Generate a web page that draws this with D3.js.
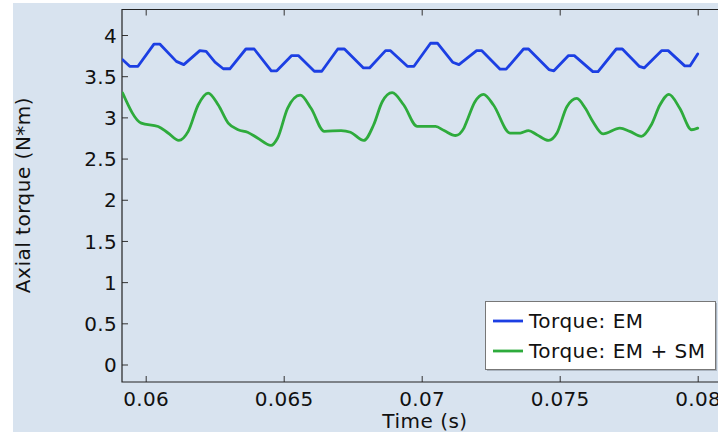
<!DOCTYPE html>
<html>
<head>
<meta charset="utf-8">
<script src="https://cdn.jsdelivr.net/npm/d3@7"></script>
<style>
  html, body { margin: 0; padding: 0; background: #fff; }
  svg { display: block; font-family: "DejaVu Sans", sans-serif; }
</style>
</head>
<body>
<svg id="chart" width="718" height="432"></svg>
<script>
// Data (time in s, torque in N*m)
var seriesNames = ["Torque: EM", "Torque: EM + SM"];
var xTicks = [0.06, 0.065, 0.07, 0.075, 0.08];
var xTickLabels = ["0.06", "0.065", "0.07", "0.075", "0.08"];
var yTicks = [0, 0.5, 1, 1.5, 2, 2.5, 3, 3.5, 4];
var yTickLabels = ["0", "0.5", "1", "1.5", "2", "2.5", "3", "3.5", "4"];

var torqueEM = [
  [0.059165, 3.70], [0.05942, 3.62], [0.05972, 3.62], [0.06030, 3.89], [0.06051, 3.89],
  [0.06111, 3.68], [0.06138, 3.64], [0.06196, 3.81], [0.06219, 3.80], [0.06251, 3.67],
  [0.06281, 3.59], [0.06305, 3.59], [0.06363, 3.83], [0.06393, 3.83], [0.06455, 3.565],
  [0.06475, 3.565], [0.06529, 3.75], [0.06553, 3.75], [0.06611, 3.56], [0.06638, 3.56],
  [0.06696, 3.83], [0.06720, 3.83], [0.06789, 3.60], [0.06811, 3.60], [0.06869, 3.81],
  [0.06887, 3.81], [0.06948, 3.62], [0.06972, 3.62], [0.07032, 3.90], [0.07057, 3.90],
  [0.07112, 3.67], [0.07135, 3.64], [0.07199, 3.81], [0.07218, 3.81], [0.07284, 3.585],
  [0.07306, 3.585], [0.07369, 3.83], [0.07387, 3.83], [0.07461, 3.58], [0.07479, 3.565],
  [0.07532, 3.75], [0.07553, 3.75], [0.07620, 3.556], [0.07639, 3.556], [0.07705, 3.83],
  [0.07727, 3.83], [0.07788, 3.62], [0.07806, 3.60], [0.07869, 3.81], [0.07893, 3.81],
  [0.07953, 3.625], [0.07972, 3.625], [0.08000, 3.77]
];
var torqueEMSM = [
  [0.059165, 3.295], [0.05984, 2.93], [0.06045, 2.89], [0.06081, 2.81], [0.06120, 2.72],
  [0.06154, 2.83], [0.06190, 3.15], [0.06226, 3.295], [0.06263, 3.15], [0.06299, 2.93],
  [0.06335, 2.85], [0.06369, 2.82], [0.06405, 2.75], [0.06454, 2.66], [0.06478, 2.75],
  [0.06514, 3.11], [0.06560, 3.27], [0.06599, 3.11], [0.06647, 2.83], [0.06708, 2.84],
  [0.06742, 2.82], [0.06790, 2.72], [0.06826, 2.91], [0.06857, 3.19], [0.06893, 3.30],
  [0.06935, 3.15], [0.06984, 2.89], [0.07050, 2.89], [0.07081, 2.84], [0.07123, 2.78],
  [0.07153, 2.87], [0.07163, 2.95], [0.07193, 3.19], [0.07224, 3.28], [0.07260, 3.15],
  [0.07320, 2.81], [0.07357, 2.81], [0.07387, 2.84], [0.07417, 2.79], [0.07460, 2.72],
  [0.07490, 2.81], [0.07526, 3.13], [0.07562, 3.23], [0.07593, 3.11], [0.07620, 2.95],
  [0.07657, 2.80], [0.07718, 2.87], [0.07754, 2.83], [0.07796, 2.77], [0.07832, 2.91],
  [0.07863, 3.15], [0.07896, 3.28], [0.07935, 3.11], [0.07978, 2.85], [0.08000, 2.87]
];

var colors = ["#1c3fe3", "#2eab3c"];

function init() {
  var svg = d3.select("#chart");
  var bg = "#d8e3ef";
  var fs = 20, ls = "0.5px";

  // plot box
  var left = 122, right = 722, top = 9.5, bottom = 382;

  var x = d3.scaleLinear().domain([0.06, 0.08]).range([145.7, 697.7]);
  var y = d3.scaleLinear().domain([0, 4]).range([364.5, 35]);

  // figure background (white strip on left and top)
  svg.append("rect").attr("x", 13).attr("y", 3).attr("width", 718 - 13).attr("height", 432 - 3)
     .attr("fill", bg);

  svg.append("clipPath").attr("id", "plotclip")
     .append("rect").attr("x", left).attr("y", top).attr("width", right - left).attr("height", bottom - top);

  // bottom axis
  var xAxis = svg.append("g")
     .attr("transform", "translate(0," + bottom + ")")
     .call(d3.axisBottom(x).tickValues(xTicks).tickSize(-6).tickSizeOuter(0)
           .tickFormat(function(d, i) { return xTickLabels[i]; }));
  xAxis.select(".domain").remove();
  xAxis.selectAll("text").attr("dy", null).attr("y", 23.5).attr("font-size", fs)
       .attr("letter-spacing", "0.3px")
       .attr("font-family", "DejaVu Sans").attr("fill", "#111");
  xAxis.selectAll("line").attr("stroke", "#333");

  // top axis ticks
  var xTop = svg.append("g")
     .attr("transform", "translate(0," + top + ")")
     .call(d3.axisTop(x).tickValues(xTicks).tickSize(-6).tickSizeOuter(0).tickFormat(""));
  xTop.select(".domain").remove();
  xTop.selectAll("line").attr("stroke", "#333");

  // left axis
  var yAxis = svg.append("g")
     .attr("transform", "translate(" + left + ",0)")
     .call(d3.axisLeft(y).tickValues(yTicks).tickSize(-6).tickSizeOuter(0)
           .tickFormat(function(d, i) { return yTickLabels[i]; }));
  yAxis.select(".domain").remove();
  yAxis.selectAll("text").attr("x", -5).attr("dy", "0.36em").attr("font-size", fs)
       .attr("letter-spacing", "0.3px")
       .attr("font-family", "DejaVu Sans").attr("fill", "#111");
  yAxis.selectAll("line").attr("stroke", "#333");

  // frame lines
  svg.append("path")
     .attr("d", "M" + right + "," + top + "H" + left + "V" + bottom + "H" + right)
     .attr("fill", "none").attr("stroke", "#222").attr("stroke-width", 1.2);

  // curves
  var lineEM = d3.line().x(function(d) { return x(d[0]); }).y(function(d) { return y(d[1]); })
                 .curve(d3.curveLinear);
  var lineEMSM = d3.line().x(function(d) { return x(d[0]); }).y(function(d) { return y(d[1]); })
                 .curve(d3.curveMonotoneX);

  var plot = svg.append("g").attr("clip-path", "url(#plotclip)");
  plot.append("path").datum(torqueEM).attr("d", lineEM)
      .attr("fill", "none").attr("stroke", colors[0]).attr("stroke-width", 2.8)
      .attr("stroke-linejoin", "round").attr("stroke-linecap", "round");
  plot.append("path").datum(torqueEMSM).attr("d", lineEMSM)
      .attr("fill", "none").attr("stroke", colors[1]).attr("stroke-width", 2.8)
      .attr("stroke-linejoin", "round").attr("stroke-linecap", "round");

  // axis titles
  svg.append("text").attr("x", 425).attr("y", 427.5).attr("text-anchor", "middle")
     .attr("font-size", fs).attr("letter-spacing", ls).attr("fill", "#111").text("Time (s)");
  svg.append("text").attr("transform", "translate(30,195) rotate(-90)").attr("text-anchor", "middle")
     .attr("font-size", fs).attr("letter-spacing", ls).attr("fill", "#111").text("Axial torque (N*m)");

  // legend
  var lg = svg.append("g").attr("transform", "translate(485,301)");
  lg.append("rect").attr("x", 2).attr("y", 2).attr("width", 230).attr("height", 68).attr("fill", "#aab4bf");
  lg.append("rect").attr("x", 0.5).attr("y", 0.5).attr("width", 230).attr("height", 68)
    .attr("fill", "#fff").attr("stroke", "#777").attr("stroke-width", 1);
  seriesNames.forEach(function(name, i) {
    var yy = 20 + i * 30;
    lg.append("line").attr("x1", 8).attr("x2", 38).attr("y1", yy).attr("y2", yy)
      .attr("stroke", colors[i]).attr("stroke-width", 2.8);
    lg.append("text").attr("x", 44).attr("y", yy + 7).attr("font-size", fs)
      .attr("letter-spacing", ls).attr("fill", "#111").text(name);
  });
}
init();
</script>
</body>
</html>
